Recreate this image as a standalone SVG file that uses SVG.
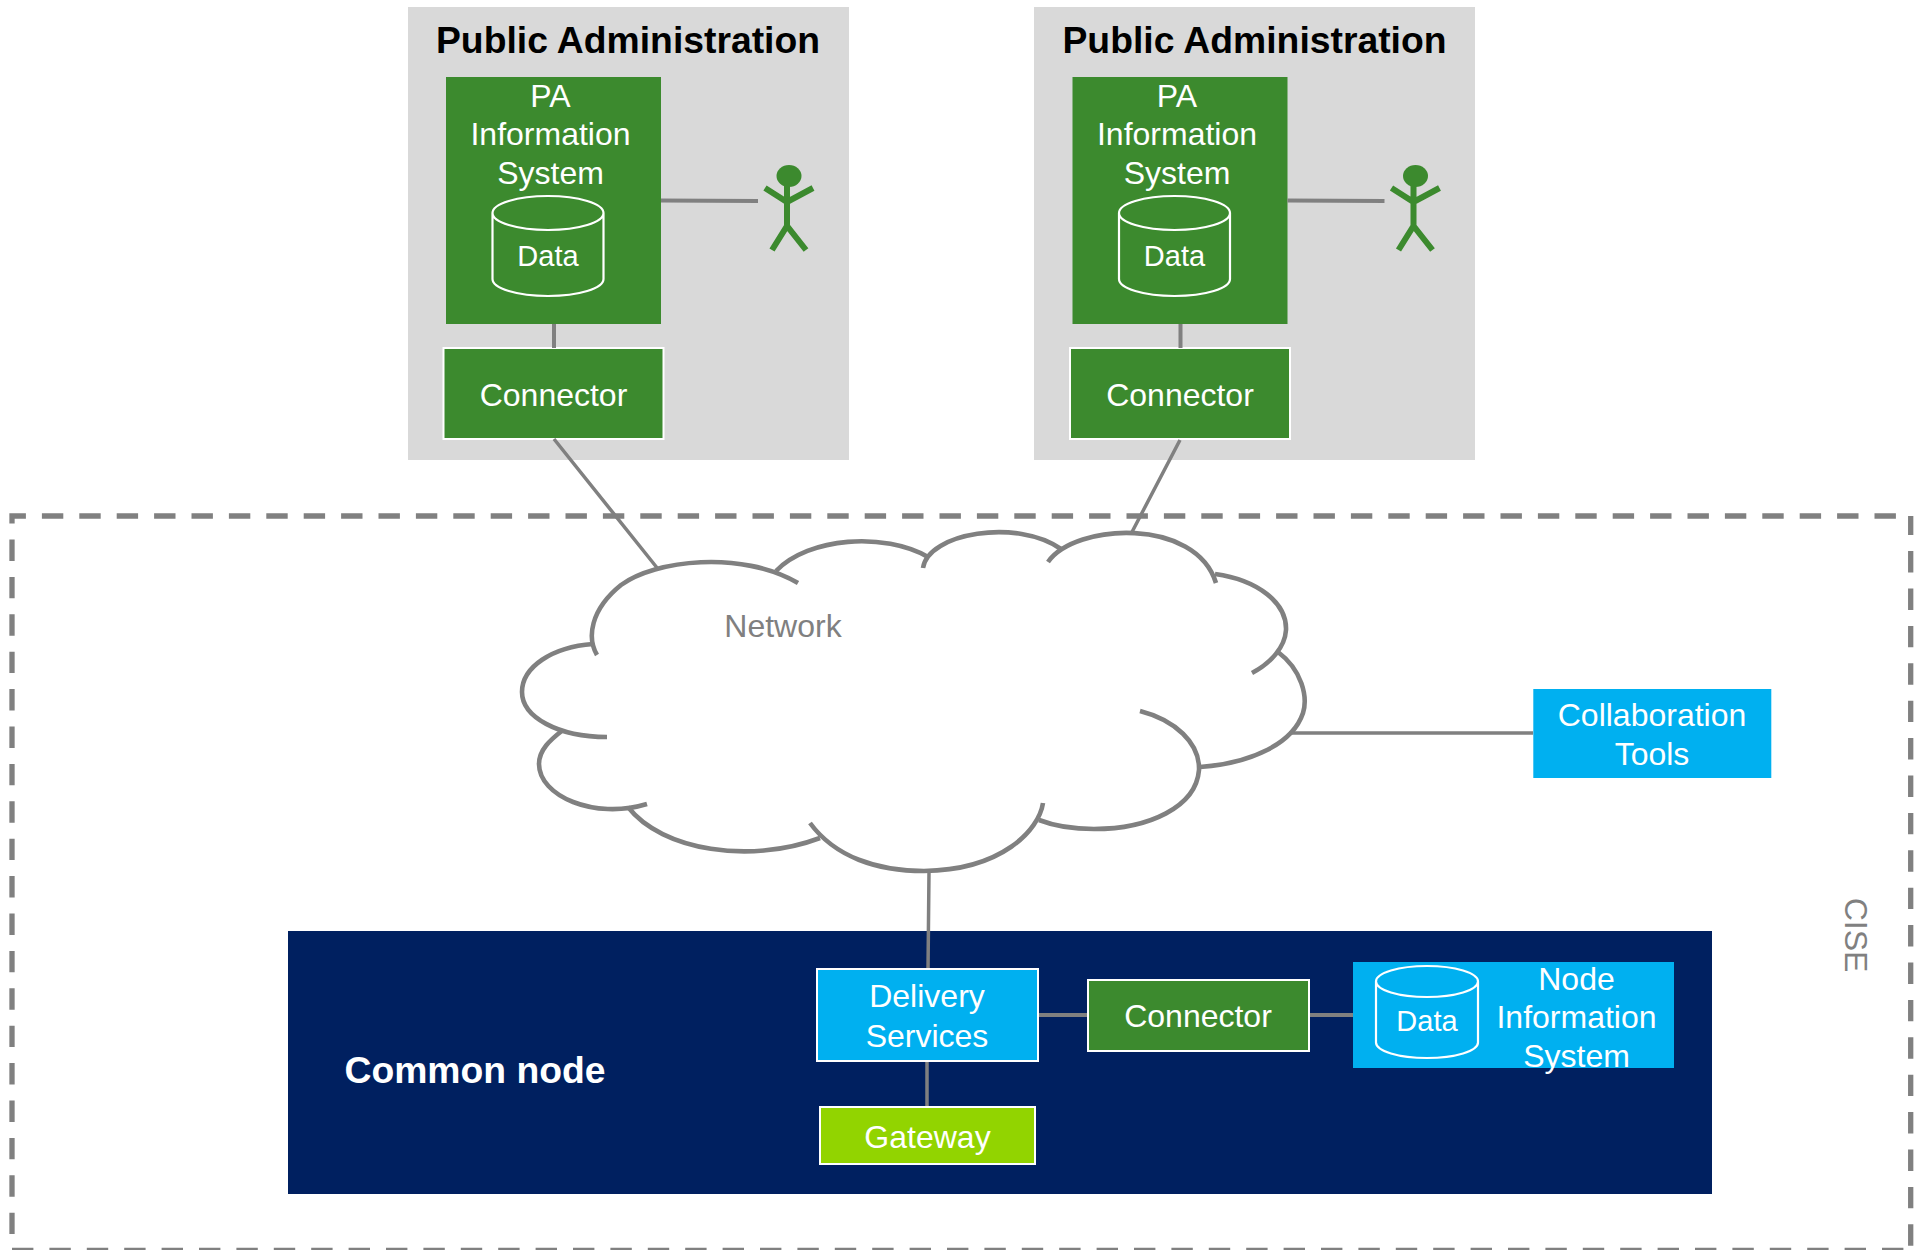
<svg xmlns="http://www.w3.org/2000/svg" width="1918" height="1250" viewBox="0 0 1918 1250">
<style>
text{font-family:"Liberation Sans",Arial,sans-serif;fill:#fff;font-size:32px;text-anchor:middle}
.h{font-weight:bold;font-size:37.300px;fill:#000}
.d{font-size:29px}
.g{fill:#3c8a2e}
.gw{fill:#3c8a2e;stroke:#fff;stroke-width:2}
.b{fill:#00b0f0}
.bw{fill:#00b0f0;stroke:#fff;stroke-width:2}
.cyl{fill:none;stroke:#fff;stroke-width:2.200}
.ln{fill:none;stroke:#808080;stroke-width:4}
.cl{fill:none;stroke:#808080;stroke-width:4.600}
.thin{fill:none;stroke:#808080;stroke-width:3.500}
.act{fill:none;stroke:#3c8a2e;stroke-width:6}
.dash{fill:none;stroke:#808080;stroke-width:5.300;stroke-dasharray:21.400 16}
</style>
<rect width="1918" height="1250" fill="#fff"/>
<g id="cise">
<path class="dash" d="M12 523.500V516H1910.700"/>
<path class="dash" d="M1910.700 516V1250" stroke-dashoffset="2.300"/>
<path class="dash" d="M12 523.500V1250" stroke-dashoffset="21.400"/>
<path class="dash" d="M12 1250.500H1910.700"/>
<text transform="translate(1845 935) rotate(90)" style="fill:#808080">CISE</text>
</g>
<g id="pa-1">
<rect x="408" y="7" width="441" height="453" fill="#d9d9d9"/>
<text class="h" x="628" y="53">Public Administration</text>
<rect class="g" x="446" y="77" width="215" height="247"/>
<text x="550.500" y="107">PA</text><text x="550.500" y="145">Information</text><text x="550.500" y="184">System</text>
<path class="cyl" d="M492.500 213A55.500 17 0 0 1 603.500 213V279A55.500 17 0 0 1 492.500 279ZM492.500 213A55.500 17 0 0 0 603.500 213"/>
<text class="d" x="548" y="266">Data</text>
<g id="actor-1"><ellipse class="g" cx="789" cy="176" rx="12.500" ry="11"/><path class="act" d="M787 183V226M765 188L787 202L813 188M772 250L787 226L806 250"/></g>
<rect class="gw" x="443.500" y="348" width="220" height="91"/>
<text x="553.500" y="406">Connector</text>
</g>
<g id="pa-2" transform="translate(626.500 0)">
<rect x="407.500" y="7" width="441" height="453" fill="#d9d9d9"/>
<text class="h" x="628" y="53">Public Administration</text>
<rect class="g" x="446" y="77" width="215" height="247"/>
<text x="550.500" y="107">PA</text><text x="550.500" y="145">Information</text><text x="550.500" y="184">System</text>
<path class="cyl" d="M492.500 213A55.500 17 0 0 1 603.500 213V279A55.500 17 0 0 1 492.500 279ZM492.500 213A55.500 17 0 0 0 603.500 213"/>
<text class="d" x="548" y="266">Data</text>
<g id="actor-2"><ellipse class="g" cx="789" cy="176" rx="12.500" ry="11"/><path class="act" d="M787 183V226M765 188L787 202L813 188M772 250L787 226L806 250"/></g>
<rect class="gw" x="443.500" y="348" width="220" height="91"/>
<text x="553.500" y="406">Connector</text>
</g>
<g id="cloud">
<path class="cl" d="M597 655C587 638 590 610 621 585C655 560 741 550 798 583"/>
<path class="cl" d="M776 571C809 537 884 532 928 557"/>
<path class="cl" d="M923 568C928 533 1017 518 1061 549"/>
<path class="cl" d="M1048 562C1075 523 1196 517 1216 583"/>
<path class="cl" d="M1215 574C1258 580 1287 603 1286 630C1285 647 1271 663 1252 673"/>
<path class="cl" d="M1278 652C1302 670 1308 697 1303 713C1293 743 1253 763 1200 767"/>
<path class="cl" d="M1140 711C1175 720 1200 743 1199 770C1196 807 1149 829 1094 829C1075 829 1057 827 1039 820"/>
<path class="cl" d="M1043 803C1039 830 1002 870 924 871C877 871 835 857 810 823"/>
<path class="cl" d="M820 838C751 864 662 851 628 807"/>
<path class="cl" d="M647 804C594 820 539 796 539 764C539 750 550 740 563 730"/>
<path class="cl" d="M607 737C558 737 522 717 522 692C522 667 552 647 593 644"/>
<text x="783" y="637" style="fill:#808080">Network</text>
</g>
<g id="common-node">
<rect x="288" y="931" width="1424" height="263" fill="#002060"/>
<text x="475" y="1083" style="font-weight:bold;font-size:37.300px">Common node</text>
</g>
<g id="connectors">
<path class="ln" d="M661 200.500L758 201M554 324V348"/>
<path class="ln" d="M1287.500 200.500L1384.500 201M1180.500 324V348"/>
<path class="thin" d="M554 439L658 569M1180 440L1132 532M1289 733H1533M929 872L928 970M927 1061V1107"/>
<path class="ln" d="M1038 1015H1088M1309 1015H1353"/>
</g>
<g id="collaboration">
<rect class="b" x="1533.300" y="689" width="238" height="89"/>
<text x="1652" y="726">Collaboration</text><text x="1652" y="765">Tools</text>
</g>
<g id="delivery">
<rect class="bw" x="817" y="969" width="221" height="92"/>
<text x="927" y="1007">Delivery</text><text x="927" y="1047">Services</text>
</g>
<g id="connector-3">
<rect class="gw" x="1088" y="980" width="221" height="71"/>
<text x="1198" y="1027">Connector</text>
</g>
<g id="gateway">
<rect x="820" y="1107" width="215" height="57" fill="#92d400" stroke="#fff" stroke-width="2"/>
<text x="927.500" y="1148">Gateway</text>
</g>
<g id="node-is">
<rect class="b" x="1353" y="962" width="321" height="106"/>
<path class="cyl" d="M1376 981.500A51 15.500 0 0 1 1478 981.500V1042.500A51 15.500 0 0 1 1376 1042.500ZM1376 981.500A51 15.500 0 0 0 1478 981.500"/>
<text class="d" x="1427" y="1031">Data</text>
<text x="1576.500" y="990">Node</text><text x="1576.500" y="1028">Information</text><text x="1576.500" y="1067">System</text>
</g>
</svg>
